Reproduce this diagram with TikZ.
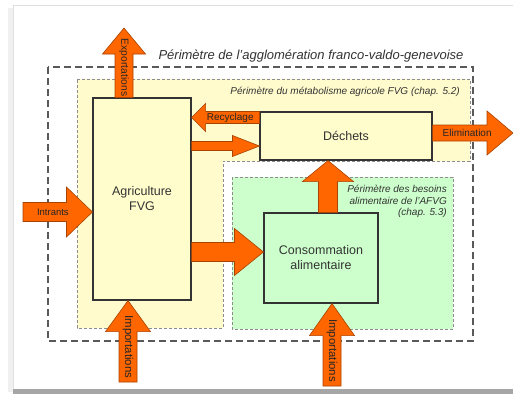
\documentclass[tikz,border=0pt]{standalone}
\usepackage{fontspec}
\setmainfont{Liberation Sans}
\usetikzlibrary{calc}
\definecolor{yel}{HTML}{FFFBCC}
\definecolor{boxyel}{HTML}{FFFDCC}
\definecolor{grn}{HTML}{CCFFCC}
\definecolor{orng}{HTML}{FF6600}
\definecolor{orngdark}{HTML}{A84300}
\definecolor{txt}{HTML}{333333}
\newcommand\fatarrow[8]{%
  \path ($(#2)!#5pt!(#1)$) coordinate (hb);
  \draw[fatarrowstyle] ($(#1)!#3pt!-90:(#2)$) -- ($(hb)!#3pt!-90:(#2)$)
     -- ($(hb)!#4pt!-90:(#2)$) -- (#2) -- ($(hb)!#4pt!90:(#2)$)
     -- ($(hb)!#3pt!90:(#2)$) -- ($(#1)!#3pt!90:(#2)$) -- cycle;
  \node[arrowlabel,rotate=#7,font=\fontsize{#8}{#8}\selectfont] at ($(#1)!0.43!(#2)$) {#6};
}
\begin{document}
\begin{tikzpicture}[x=1pt,y=-1pt,
  fatarrowstyle/.style={fill=orng,draw=orngdark,line width=0.6pt,line join=miter},
  arrowlabel/.style={text=black!85,inner sep=0pt},
  procbox/.style={draw=black!80,line width=1.1pt,text=txt,align=center,inner sep=0pt,
     font=\fontsize{12.5}{15}\selectfont},
  perim/.style={font=\itshape\fontsize{10}{11.5}\selectfont,text=txt,inner sep=0pt},
  outerdash/.style={draw=black!65,line width=1.1pt,dash pattern=on 7pt off 4pt},
  innerdash/.style={draw=black!45,line width=0.8pt,dash pattern=on 3pt off 2pt}]
\useasboundingbox (0,0) rectangle (513,394);
% page
\fill[white] (0,0) rectangle (513,394);
\fill[black!6] (8,8) rectangle (13,392);
\fill[black!35] (13,389) rectangle (513,393.5);
\fill[white] (13,5) rectangle (513,389);
\draw[black!12,line width=0.8pt] (13,389) -- (13,5) -- (513,5);
% perimeters
\path[fill=yel,innerdash] (77,79) -- (470,79) -- (470,161) -- (223,161) -- (223,328) -- (77,328) -- cycle;
\path[fill=grn,innerdash] (232,177) rectangle (453,329);
\path[outerdash] (48,67) rectangle (473,341);
\node[font=\itshape\fontsize{13}{15}\selectfont,text=txt,inner sep=0pt] (ttl) at (311,56) {Périmètre de l’agglomération franco-valdo-genevoise};
\node[perim,anchor=east] (p52) at (460,92) {Périmètre du métabolisme agricole FVG (chap. 5.2)};
\node[perim,anchor=north east,align=right] (p53) at (447,185) {Périmètre des besoins\\alimentaire de l’AFVG\\(chap. 5.3)};
% boxes
\node[procbox,fill=boxyel,minimum width=98pt,minimum height=202pt] (agri) at (142,199) {Agriculture\\FVG};
\node[procbox,fill=boxyel,minimum width=172pt,minimum height=48pt] (dech) at (346,136) {Déchets};
\node[procbox,fill=grn,minimum width=114pt,minimum height=90pt] (conso) at (321,258) {Consommation\\alimentaire};
% arrow end points
\coordinate (exS) at ($(agri.north)+(-18,0)$);
\coordinate (exT) at (124,28);
\coordinate (reS) at ($(dech.west)+(0,-18.5)$);
\coordinate (reT) at (agri.east |- reS);
\coordinate (adT) at ($(dech.west)+(0,10)$);
\coordinate (adS) at (agri.east |- adT);
\coordinate (elS) at ($(dech.east)+(0,-3)$);
\coordinate (elT) at (513,133);
\coordinate (inT) at ($(agri.west)+(0,13)$);
\coordinate (inS) at (23,212);
\coordinate (acT) at ($(conso.west)+(0,-6)$);
\coordinate (acS) at (agri.east |- acT);
\coordinate (cdS) at ($(conso.north)+(7,0)$);
\coordinate (cdT) at (cdS |- dech.south);
\coordinate (ilT) at ($(agri.south)+(-14,0)$);
\coordinate (ilS) at (128,382);
\coordinate (irT) at ($(conso.south)+(11,0)$);
\coordinate (irS) at (332,386);
% arrows
\fatarrow{exS}{exT}{9}{21.5}{26}{Exportations}{-90}{10.3}
\fatarrow{reS}{reT}{6}{14}{14}{Recyclage}{0}{10}
\fatarrow{adS}{adT}{4.5}{10.5}{27}{}{0}{10}
\fatarrow{elS}{elT}{8}{22}{26}{Elimination}{0}{10}
\fatarrow{inS}{inT}{9.5}{25}{26}{Intrants}{0}{9.5}
\fatarrow{acS}{acT}{9.5}{23.5}{29}{}{0}{10}
\fatarrow{cdS}{cdT}{9.5}{25.5}{21}{}{0}{10}
\fatarrow{ilS}{ilT}{9}{22.5}{31}{Importations}{-90}{11.4}
\fatarrow{irS}{irT}{9}{22.5}{32}{Importations}{-90}{11.4}
\end{tikzpicture}
\end{document}
